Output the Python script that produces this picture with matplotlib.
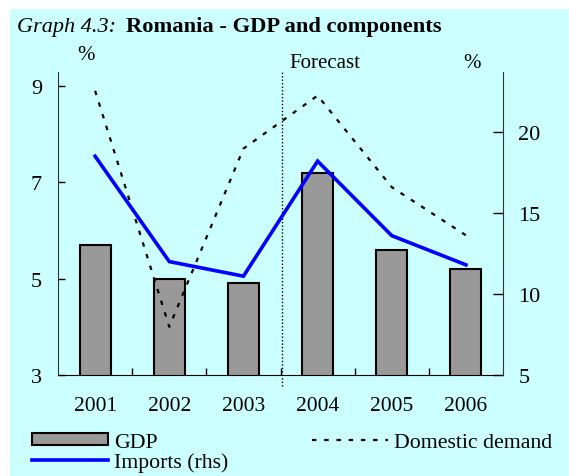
import matplotlib
matplotlib.use("Agg")
import matplotlib.pyplot as plt
from matplotlib.patches import Rectangle
from matplotlib.lines import Line2D
import numpy as np

years = ["2001", "2002", "2003", "2004", "2005", "2006"]
gdp = [5.7, 5.0, 4.9, 7.2, 5.6, 5.2]
domestic_demand = [8.9, 4.0, 7.7, 8.8, 6.9, 5.9]
imports_rhs = [18.5, 12.0, 11.1, 18.2, 13.6, 11.8]

plt.rcParams["font.family"] = ["Liberation Serif", "DejaVu Serif"]
bg = "#CCFFFF"

fig = plt.figure(figsize=(5.69, 4.77), dpi=100)
fig.patches.append(Rectangle((10 / 569, 0), 1, 1 - 10 / 477, transform=fig.transFigure,
                             facecolor=bg, edgecolor="none", zorder=-10))

ax = fig.add_axes([0.102, 0.2117, 0.782, 0.6353])
ax.set_facecolor("none")
ax2 = ax.twinx()

x = np.arange(len(years))
ax.bar(x, gdp, width=0.42, color="#999999", edgecolor="black", linewidth=1.5, zorder=2)
ax.plot(x, domestic_demand, color="black", linewidth=1.6, dashes=(2, 3.5), zorder=3)
ax2.plot(x, imports_rhs, color="#0000FF", linewidth=2.6, solid_joinstyle="miter", zorder=3)

ax.set_xlim(-0.5, 5.5)
ax.set_ylim(3, 9.29)
ax2.set_ylim(5, 23.7)
ax.set_yticks([3, 5, 7, 9])
ax2.set_yticks([5, 10, 15, 20])

ax.set_xticks(x)
ax.set_xticklabels(years)
ax.set_xticks(np.arange(0.5, 5.5, 1), minor=True)
ax.tick_params(axis="x", which="major", length=0, pad=15, labelsize=15.5)
ax.tick_params(axis="x", which="minor", direction="in", length=5, width=1)
ax.tick_params(axis="y", direction="in", length=5, width=1, pad=11.5, labelsize=16)
ax2.tick_params(axis="y", direction="in", length=7, width=1, pad=11, labelsize=16)

for a in (ax, ax2):
    a.spines["top"].set_visible(False)
ax2.spines["left"].set_visible(False)
ax2.spines["bottom"].set_visible(False)
ax.spines["right"].set_visible(False)
ax.spines["left"].set_color("#333333")
ax2.spines["right"].set_color("#333333")

# forecast separator
ax.plot([2.52, 2.52], [3 - 0.23, 9.29], color="black", linewidth=1,
        linestyle=(0, (1, 1.5)), clip_on=False, zorder=4)

fig.text(17 / 569, 1 - 32 / 477, "Graph 4.3:", fontsize=16, style="italic", va="baseline")
fig.text(126 / 569, 1 - 32 / 477, "Romania - GDP and components", fontsize=16.2,
         fontweight="bold", va="baseline")
fig.text(86 / 569, 1 - 56 / 477, "%", fontsize=15, ha="center", va="center")
fig.text(325 / 569, 1 - 63 / 477, "Forecast", fontsize=15, ha="center", va="center")
fig.text(472 / 569, 1 - 63 / 477, "%", fontsize=15, ha="center", va="center")

handles = [
    Rectangle((0, 0), 1, 1, facecolor="#999999", edgecolor="black", linewidth=1.5),
    Line2D([], [], color="#0000FF", linewidth=2.6),
    Line2D([], [], color="black", linewidth=1.6, dashes=(2, 3.5)),
]
labels = ["GDP", "Imports (rhs)", "Domestic demand"]
fig.legend(handles, labels, ncol=2, loc="upper left", bbox_to_anchor=(32 / 569, 1 - 434 / 477),
           frameon=False, fontsize=15.7, handlelength=3.5, handleheight=0.5,
           handletextpad=0.28, labelspacing=0.0, columnspacing=3.8, borderpad=0, borderaxespad=0)

fig.savefig("out.png", dpi=100, facecolor="white")
